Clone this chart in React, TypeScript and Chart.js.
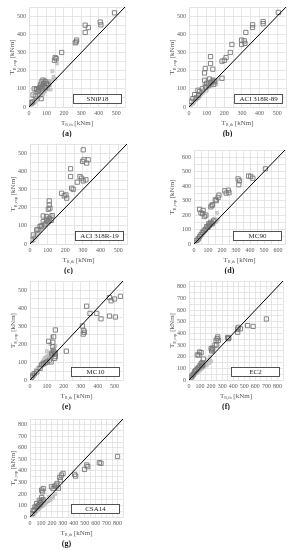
import React, { useEffect, useRef } from "react";
import { Chart, registerables } from "chart.js";
Chart.register(...registerables);

type P = [number, number];

// ---------- data: [T_R,th, T_R,exp] in kNm ----------
const aOpen: P[] = [[490,518],[408,467],[412,452],[322,450],[340,437],[322,410],[265,353],[273,368],[270,358],[187,300],[150,272],[146,257],[156,266],[42,96],[57,92],[73,101],[71,138],[84,129],[92,140],[76,114],[23,66],[70,46],[12,22],[61,107],[95,107],[52,85],[66,121],[80,148],[100,130],[36,60],[20,28],[88,112],[108,122],[30,100],[45,100]];
const aGray: P[] = [[160,239],[134,197],[118,143],[130,140],[124,96],[109,96],[140,152],[100,100],[90,86],[80,72],[70,62],[60,56],[50,46],[40,36],[30,26],[20,18],[10,10],[55,66],[65,82],[75,92],[85,100],[45,52],[35,42],[25,32],[15,16],[95,120],[105,112],[115,130],[70,76],[60,72],[50,62],[40,48],[30,36],[85,82],[95,94],[120,120],[150,155],[48,40],[38,30],[28,22],[140,165],[110,140],[100,145],[90,150],[80,130],[65,110]];

const bOpen: P[] = [[506,520],[420,470],[420,458],[360,452],[360,437],[322,410],[298,368],[313,364],[317,350],[298,344],[243,344],[234,300],[210,272],[200,257],[187,252],[187,158],[122,277],[122,239],[135,208],[92,212],[88,187],[88,147],[116,154],[135,147],[51,92],[32,68],[22,46],[13,31],[54,64],[100,130],[110,120],[125,135],[140,125],[75,100],[40,50],[60,85],[145,140],[95,110]];
const bGray: P[] = [[10,10],[20,18],[30,28],[40,38],[50,48],[60,62],[70,70],[80,78],[90,95],[100,100],[110,108],[120,118],[130,128],[140,135],[150,145],[45,55],[55,50],[65,75],[75,85],[85,88],[95,105],[105,115],[115,112],[125,122],[135,140],[25,22],[35,42],[100,90],[90,110],[80,92],[70,80],[60,70],[120,140],[110,130],[130,118],[140,150],[150,132],[160,150],[155,125],[85,120],[105,140]];

const cOpen: P[] = [[302,518],[298,454],[306,463],[330,463],[321,445],[230,414],[230,371],[283,371],[292,362],[302,347],[317,353],[268,340],[236,307],[245,301],[179,279],[204,270],[208,252],[194,265],[109,237],[109,215],[104,191],[113,197],[126,156],[94,151],[75,154],[75,123],[57,96],[38,77],[19,50],[9,22],[94,132],[110,140],[120,130],[85,110],[65,100],[45,80],[105,125]];
const cGray: P[] = [[75,96],[60,85],[50,70],[40,60],[30,45],[20,30],[10,15],[80,110],[90,120],[100,130],[55,75],[65,90],[45,65],[35,50],[25,40],[15,25],[70,100],[85,100],[95,115],[105,145],[115,150],[50,60],[40,50],[30,35],[60,70],[70,85],[80,95],[90,105],[100,115],[110,125],[20,20],[35,38],[45,55],[120,160],[130,150]];

const dOpen: P[] = [[510,520],[405,467],[420,455],[390,470],[315,450],[325,437],[320,410],[220,368],[245,372],[230,352],[250,355],[160,300],[172,322],[152,306],[178,338],[132,272],[120,257],[128,266],[40,240],[50,215],[62,210],[75,190],[65,232],[85,200],[130,140],[120,150],[110,130],[100,115],[90,120],[80,100],[70,90],[60,80],[50,65],[40,50],[30,35],[20,25],[105,140],[140,160]];
const dGray: P[] = [[10,12],[20,22],[30,32],[40,45],[50,55],[60,68],[70,78],[80,88],[90,98],[100,108],[110,118],[120,128],[130,135],[140,145],[150,150],[160,155],[45,60],[55,72],[65,85],[75,95],[85,110],[95,125],[105,135],[115,145],[25,30],[35,40],[125,150],[135,165],[145,175],[155,160],[170,170],[165,215]];

const eOpen: P[] = [[535,465],[500,450],[480,440],[470,458],[505,350],[470,355],[420,340],[395,370],[355,370],[335,410],[310,300],[318,275],[322,265],[315,255],[215,160],[150,278],[140,240],[135,210],[110,215],[135,185],[145,145],[130,140],[150,130],[145,120],[125,100],[100,100],[80,90],[60,65],[40,45],[25,35],[15,25],[10,15],[140,160],[150,150],[130,150],[115,110],[90,95],[70,85]];
const eGray: P[] = [[40,50],[50,70],[60,85],[70,95],[80,110],[90,125],[100,130],[110,135],[120,150],[130,165],[140,175],[55,60],[65,80],[75,100],[85,115],[95,105],[105,120],[115,140],[125,145],[30,40],[20,28],[35,55],[45,65],[100,160],[120,200],[130,240],[10,12],[25,20],[150,190]];

const fOpen: P[] = [[700,524],[580,460],[530,467],[445,452],[440,435],[465,440],[440,410],[355,355],[350,365],[360,360],[260,370],[255,355],[265,340],[245,340],[250,300],[235,300],[205,250],[200,270],[215,275],[210,260],[95,240],[90,215],[75,215],[110,235],[130,180],[120,150],[110,140],[100,125],[90,110],[80,100],[70,90],[60,80],[50,70],[40,50],[30,40],[20,25],[115,120],[125,130]];
const fGray: P[] = [[140,120],[150,130],[160,140],[170,150],[180,160],[190,165],[200,160],[130,110],[120,100],[110,95],[100,85],[90,80],[80,70],[70,60],[60,55],[50,45],[40,35],[30,25],[20,18],[10,10],[150,150],[170,175],[190,200],[220,240],[160,125],[140,140],[130,125],[180,145]];

const gOpen: P[] = [[800,525],[634,471],[649,466],[519,451],[528,437],[498,413],[408,370],[417,355],[287,364],[302,378],[272,343],[278,320],[226,268],[241,276],[247,291],[196,262],[211,247],[260,250],[115,218],[106,233],[121,247],[30,58],[45,87],[60,116],[85,145],[106,169],[40,60],[55,80],[70,95],[80,100],[90,110],[100,125],[110,140],[120,150],[20,30],[65,90],[95,130]];
const gGray: P[] = [[190,150],[210,170],[230,200],[180,160],[170,140],[160,135],[150,130],[140,120],[130,110],[120,100],[110,95],[100,90],[90,80],[80,70],[70,60],[60,50],[50,40],[40,30],[30,22],[20,15],[200,180],[150,140],[160,145],[250,255],[175,175]];

const codeLabels = ["SNiP18", "ACI 318R-89", "ACI 318R-19", "MC90", "MC10", "EC2", "CSA14"];
const panelLetters = ["(a)", "(b)", "(c)", "(d)", "(e)", "(f)", "(g)"];
const axisMax = [550, 550, 550, 650, 550, 850, 850];

const FONT = '"Liberation Serif", "Times New Roman", serif';

interface PanelDef {
  idx: number;
  left: number;
  top: number;
  w: number;
  h: number;
  area: [number, number, number, number]; // l r t b
  open: P[];
  gray: P[];
}

const panels: PanelDef[] = [
  { idx: 0, left: 0, top: 0, w: 145, h: 137, area: [29, 125, 7, 107], open: aOpen, gray: aGray },
  { idx: 1, left: 145, top: 0, w: 146, h: 137, area: [44, 142, 7, 107], open: bOpen, gray: bGray },
  { idx: 2, left: 0, top: 137, w: 145, h: 137, area: [30, 127, 7, 107], open: cOpen, gray: cGray },
  { idx: 3, left: 145, top: 137, w: 146, h: 137, area: [49, 140, 13, 107], open: dOpen, gray: dGray },
  { idx: 4, left: 0, top: 273, w: 145, h: 137, area: [30, 123, 8, 107], open: eOpen, gray: eGray },
  { idx: 5, left: 145, top: 273, w: 146, h: 137, area: [44, 138, 8, 107], open: fOpen, gray: fGray },
  { idx: 6, left: 0, top: 410, w: 145, h: 140, area: [30, 123, 9, 107], open: gOpen, gray: gGray },
];

function drawSub(ctx: CanvasRenderingContext2D, cx: number, y: number, main: string, sub: string, rest: string, size: number) {
  const big = `${size}px ${FONT}`;
  const small = `${(size * 0.62).toFixed(1)}px ${FONT}`;
  ctx.font = big;
  const w1 = ctx.measureText(main).width;
  const w3 = ctx.measureText(rest).width;
  ctx.font = small;
  const w2 = ctx.measureText(sub).width;
  let x = cx - (w1 + w2 + w3) / 2;
  ctx.textAlign = "left";
  ctx.textBaseline = "alphabetic";
  ctx.font = big;
  ctx.fillText(main, x, y);
  x += w1;
  ctx.font = small;
  ctx.fillText(sub, x, y + size * 0.22);
  x += w2;
  ctx.font = big;
  ctx.fillText(rest, x, y);
}

function PanelChart({ p }: { p: PanelDef }) {
  const ref = useRef<HTMLCanvasElement>(null);
  useEffect(() => {
    if (!ref.current) return;
    const [l, r, t, b] = p.area;
    const max = axisMax[p.idx];
    const yW = 14;
    const xH = 10;
    const label = codeLabels[p.idx];
    const letter = panelLetters[p.idx];
    const deco = {
      id: "deco" + p.idx,
      afterDatasetsDraw(chart: any) {
        const ctx = chart.ctx as CanvasRenderingContext2D;
        const ca = chart.chartArea;
        ctx.save();
        const bw = 49, bh = 10;
        const bx = ca.right - 3 - bw;
        const by = ca.bottom - 3 - bh;
        ctx.fillStyle = "#ffffff";
        ctx.fillRect(bx, by, bw, bh);
        ctx.strokeStyle = "#404040";
        ctx.lineWidth = 0.9;
        ctx.strokeRect(bx + 0.5, by + 0.5, bw - 1, bh - 1);
        ctx.fillStyle = "#262626";
        ctx.font = `7px ${FONT}`;
        ctx.textAlign = "center";
        ctx.textBaseline = "middle";
        ctx.fillText(label, bx + bw / 2, by + bh / 2 + 0.5);
        ctx.restore();
      },
      afterDraw(chart: any) {
        const ctx = chart.ctx as CanvasRenderingContext2D;
        const ca = chart.chartArea;
        const cx = (ca.left + ca.right) / 2;
        ctx.save();
        ctx.fillStyle = "#595959";
        drawSub(ctx, cx, ca.bottom + 17.5, "T", "R,th", " [kNm]", 7);
        ctx.save();
        ctx.translate(ca.left - (p.idx === 3 ? 20 : 15), (ca.top + ca.bottom) / 2);
        ctx.rotate(-Math.PI / 2);
        drawSub(ctx, 0, 0, "T", "R,exp", " [kNm]", 7);
        ctx.restore();
        ctx.fillStyle = "#1a1a1a";
        ctx.font = `bold 8px ${FONT}`;
        ctx.textAlign = "center";
        ctx.textBaseline = "alphabetic";
        ctx.fillText(letter, cx - 10, ca.bottom + 29);
        ctx.restore();
      },
    };
    const tickCb = (v: any) => (Number(v) % 100 === 0 ? String(v) : "");
    const gridCfg = { color: "#e0e0e0", lineWidth: 0.8, drawTicks: false };
    const chart = new Chart(ref.current, {
      type: "scatter",
      data: {
        datasets: [
          {
            type: "line",
            data: [{ x: 0, y: 0 }, { x: max, y: max }],
            borderColor: "#000000",
            borderWidth: 1,
            pointRadius: 0,
            fill: false,
            order: 0,
          } as any,
          {
            data: p.open.map(([x, y]) => ({ x, y })),
            pointStyle: "rect",
            pointRadius: 3,
            borderColor: "#777777",
            backgroundColor: "rgba(255,255,255,0)",
            borderWidth: 0.9,
            order: 1,
          },
          {
            data: p.gray.map(([x, y]) => ({ x, y })),
            pointStyle: "rect",
            pointRadius: 2.1,
            borderColor: "#b4b4b4",
            backgroundColor: "#d0d0d0",
            borderWidth: 0.6,
            order: 2,
          },
        ],
      },
      options: {
        responsive: false,
        animation: false,
        events: [],
        layout: { padding: { left: l - yW, right: p.w - r, top: t, bottom: p.h - b - xH } },
        plugins: { legend: { display: false }, tooltip: { enabled: false } },
        scales: {
          x: {
            type: "linear",
            min: 0,
            max,
            afterFit: (s: any) => { s.height = xH; },
            grid: gridCfg,
            border: { display: true, color: "#e0e0e0", width: 0.8 },
            ticks: { stepSize: 50, autoSkip: false, maxRotation: 0, padding: 3, color: "#595959", font: { family: FONT, size: 6 }, callback: tickCb },
          },
          y: {
            type: "linear",
            min: 0,
            max,
            afterFit: (s: any) => { s.width = yW; },
            grid: gridCfg,
            border: { display: true, color: "#e0e0e0", width: 0.8 },
            ticks: { stepSize: 50, autoSkip: false, padding: 3, color: "#595959", font: { family: FONT, size: 6 }, callback: tickCb },
          },
        },
      },
      plugins: [deco],
    });
    return () => chart.destroy();
  }, [p]);
  return (
    <div style={{ position: "absolute", left: p.left, top: p.top, width: p.w, height: p.h }}>
      <canvas ref={ref} width={p.w} height={p.h} style={{ width: p.w, height: p.h, display: "block" }} />
    </div>
  );
}

export default function App() {
  return (
    <div style={{ position: "absolute", left: 0, top: 0, width: 291, height: 550, background: "#ffffff", overflow: "hidden" }}>
      {panels.map((p) => (
        <PanelChart key={p.idx} p={p} />
      ))}
    </div>
  );
}
